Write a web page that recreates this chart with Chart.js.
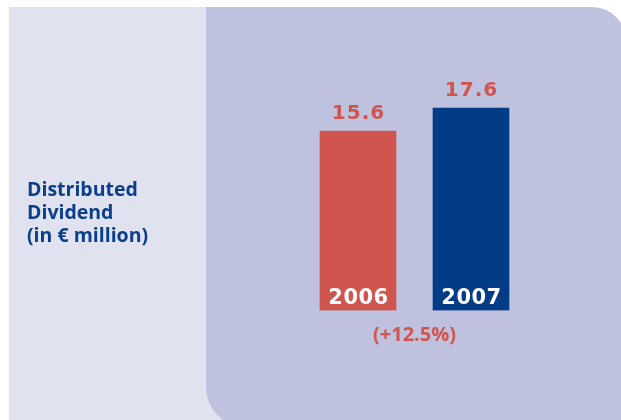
<!DOCTYPE html>
<html lang="en">
<head>
    <meta charset="UTF-8">
    <title>Distributed Dividend</title>
    <script src="https://cdn.jsdelivr.net/npm/chart.js"></script>
    <style>
        html, body { margin: 0; padding: 0; background: #ffffff; }
        canvas { display: block; }
    </style>
</head>
<body>

<canvas id="dividendChart" width="621" height="420"></canvas>

<script>
    // data
    const years = ['2006', '2007'];
    const dividend = [15.6, 17.6];
    const barColors = ['#d0554e', '#023c87'];
    const titleLines = ['Distributed', 'Dividend', '(in € million)'];
    const changeLabel = '(+12.5%)';

    const RED = '#d0554e';
    const BLUE = '#0b3e8b';

    // background panels
    const backdrop = {
        id: 'backdrop',
        beforeDraw(chart) {
            const ctx = chart.ctx;
            ctx.save();
            ctx.fillStyle = '#ffffff';
            ctx.fillRect(0, 0, chart.width, chart.height);
            ctx.fillStyle = '#e0e2ef';
            ctx.fillRect(9, 7, 220, 420);
            ctx.fillStyle = '#bfc2de';
            ctx.beginPath();
            ctx.roundRect(206, 7, 420, 420, [0, 34, 0, 40]);
            ctx.fill();
            ctx.restore();
        }
    };

    // value labels, year labels and side text
    const labels = {
        id: 'labels',
        afterDatasetsDraw(chart) {
            const ctx = chart.ctx;
            const bars = chart.getDatasetMeta(0).data;
            ctx.save();
            ctx.textAlign = 'center';
            ctx.textBaseline = 'alphabetic';

            bars.forEach((bar, i) => {
                ctx.letterSpacing = '1px';
                ctx.font = 'bold 20px "DejaVu Sans"';
                ctx.fillStyle = RED;
                ctx.fillText(dividend[i].toFixed(1), bar.x + 0.5, bar.y - 12);

                ctx.letterSpacing = '0.5px';
                ctx.font = 'bold 21px "DejaVu Sans"';
                ctx.fillStyle = '#ffffff';
                ctx.fillText(years[i], bar.x + 0.5, chart.chartArea.bottom - 7);
            });

            ctx.letterSpacing = '0px';
            ctx.font = 'bold 20px "Open Sans"';
            ctx.fillStyle = RED;
            ctx.fillText(changeLabel, (bars[0].x + bars[1].x) / 2, 341);

            ctx.textAlign = 'left';
            ctx.font = 'bold 19.5px "Open Sans"';
            ctx.fillStyle = BLUE;
            titleLines.forEach((line, i) => {
                ctx.fillText(line, 27, 196 + i * 23);
            });
            ctx.restore();
        }
    };

    const ctx = document.getElementById('dividendChart').getContext('2d');
    new Chart(ctx, {
        type: 'bar',
        data: {
            labels: years,
            datasets: [{
                data: dividend,
                backgroundColor: barColors,
                borderWidth: 0,
                barThickness: 76
            }]
        },
        options: {
            responsive: false,
            animation: false,
            layout: {
                padding: { left: 301.5, right: 93.5, top: 80.5, bottom: 109.5 }
            },
            plugins: {
                legend: { display: false },
                tooltip: { enabled: false }
            },
            scales: {
                x: { display: false },
                y: { display: false, min: 0, max: 20 }
            }
        },
        plugins: [backdrop, labels]
    });
</script>

</body>
</html>
